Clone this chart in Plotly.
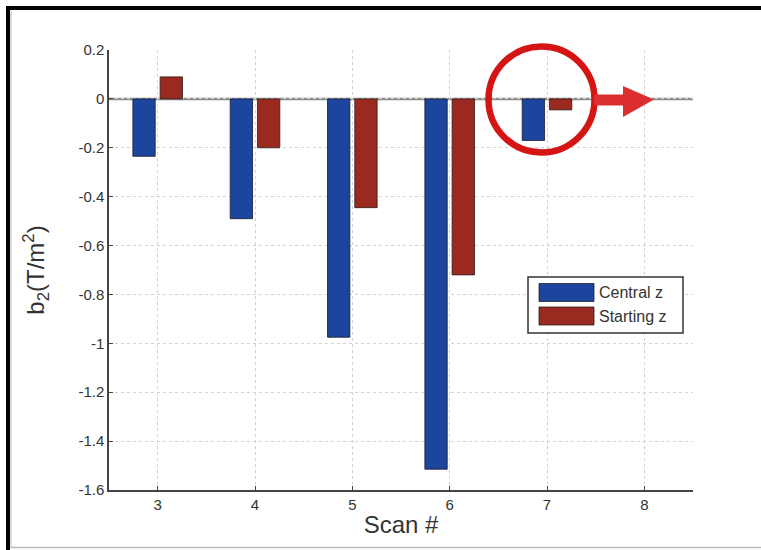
import plotly.graph_objects as go

# Scan numbers and b2 values (T/m^2) for the two z positions
scans = [3, 4, 5, 6, 7]
central_z = [-0.235, -0.49, -0.975, -1.515, -0.17]
starting_z = [0.09, -0.20, -0.445, -0.72, -0.045]
series_names = ["Central z", "Starting z"]
x_ticks = [3, 4, 5, 6, 7, 8]
y_ticks = [0.2, 0, -0.2, -0.4, -0.6, -0.8, -1, -1.2, -1.4, -1.6]
y_tick_text = ["0.2", "0", "-0.2", "-0.4", "-0.6", "-0.8", "-1", "-1.2", "-1.4", "-1.6"]

W, H = 761, 550
ML, MR, MT, MB = 109, 68, 50, 60
PW, PH = W - ML - MR, H - MT - MB

def px(x):
    return (x - ML) / PW

def py(y):
    return (H - MB - y) / PH

FONT = "Liberation Sans, Arial, Helvetica, sans-serif"
BLUE = "#1c459e"
RED = "#9a2a20"

fig = go.Figure()
fig.add_trace(go.Bar(
    x=scans, y=central_z, name=series_names[0],
    marker=dict(color=BLUE, line=dict(color="#1a1a2a", width=0.8)),
))
fig.add_trace(go.Bar(
    x=scans, y=starting_z, name=series_names[1],
    marker=dict(color=RED, line=dict(color="#2a1a1a", width=0.8)),
))

shapes = []
# zero reference line
shapes.append(dict(type="line", xref="paper", yref="y", x0=0, x1=1, y0=0, y1=0,
                   line=dict(color="#8a8a8a", width=2.5), layer="below"))

# highlight circle and arrow
shapes.append(dict(type="circle", xref="paper", yref="paper",
                   x0=px(488.5), x1=px(594.5), y0=py(152.5), y1=py(46.5),
                   line=dict(color="#d51414", width=6.5)))
arrow_pts = [(594, 94.5), (623, 94.5), (623, 86), (654, 99.5), (623, 117), (623, 105.5), (594, 105.5)]
path = "M " + " L ".join(f"{px(a):.5f},{py(b):.5f}" for a, b in arrow_pts) + " Z"
shapes.append(dict(type="path", xref="paper", yref="paper", path=path,
                   fillcolor="#dc2e2e", line=dict(width=0)))

# legend box with swatches
shapes.append(dict(type="rect", xref="paper", yref="paper",
                   x0=px(528), x1=px(683), y0=py(333), y1=py(277),
                   fillcolor="white", line=dict(color="#333333", width=1.5)))
annotations = []
for i, (name, col) in enumerate(zip(series_names, [BLUE, RED])):
    yc = 292.5 + i * 23.5
    shapes.append(dict(type="rect", xref="paper", yref="paper",
                       x0=px(539), x1=px(594), y0=py(yc + 9), y1=py(yc - 9),
                       fillcolor=col, line=dict(color="#222222", width=0.8)))
    annotations.append(dict(xref="paper", yref="paper", x=px(597), y=py(yc),
                            text=name, showarrow=False, xanchor="left", yanchor="middle",
                            font=dict(family=FONT, size=16, color="#333333")))

# outer frame
shapes.append(dict(type="line", xref="paper", yref="paper", x0=px(6), x1=px(761), y0=py(8), y1=py(8),
                   line=dict(color="black", width=4)))
shapes.append(dict(type="line", xref="paper", yref="paper", x0=px(8), x1=px(8), y0=py(6), y1=py(550),
                   line=dict(color="black", width=4)))
shapes.append(dict(type="line", xref="paper", yref="paper", x0=px(11), x1=px(761), y0=py(547.5), y1=py(547.5),
                   line=dict(color="#bbbbbb", width=1.5)))
shapes.append(dict(type="line", xref="paper", yref="paper", x0=px(11), x1=px(11), y0=py(11), y1=py(548),
                   line=dict(color="#bbbbbb", width=1)))

fig.update_layout(
    width=W, height=H,
    margin=dict(l=ML, r=MR, t=MT, b=MB),
    paper_bgcolor="white", plot_bgcolor="white",
    barmode="group", bargap=0.44, bargroupgap=0.18,
    showlegend=False,
    font=dict(family=FONT, color="#333333"),
    shapes=shapes, annotations=annotations,
    xaxis=dict(
        range=[2.5, 8.5], tickvals=x_ticks, ticktext=[str(t) for t in x_ticks],
        showgrid=True, gridcolor="#d2d2d2", griddash="dot", gridwidth=1,
        showline=True, linecolor="#444444", linewidth=1.5,
        ticks="inside", ticklen=4, tickcolor="#444444",
        tickfont=dict(size=15, color="#333333"), zeroline=False,
        title=dict(text="Scan #", font=dict(size=24, color="#333333"), standoff=4),
    ),
    yaxis=dict(
        range=[-1.6, 0.2], tickvals=y_ticks, ticktext=y_tick_text,
        showgrid=True, gridcolor="#d2d2d2", griddash="dot", gridwidth=1,
        showline=True, linecolor="#444444", linewidth=1.5,
        ticks="inside", ticklen=4, tickcolor="#444444",
        tickfont=dict(size=15, color="#333333"), zeroline=False,
        title=dict(text="b<sub>2</sub>(T/m<sup>2</sup>)", font=dict(size=24, color="#333333"), standoff=27),
    ),
)

fig.write_html("out.html")
